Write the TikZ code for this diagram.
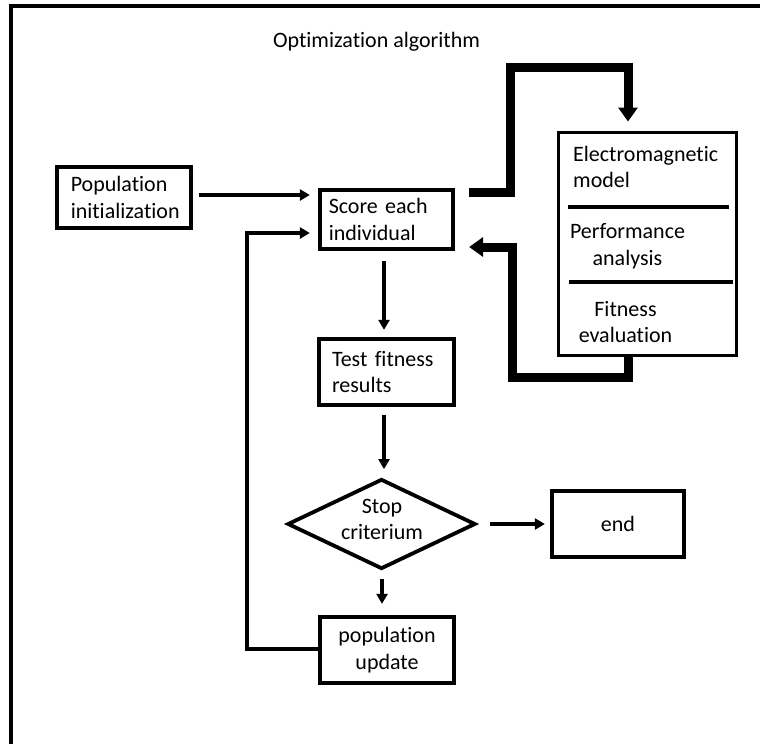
\documentclass[tikz,border=0pt]{standalone}
\usepackage{fontspec}
\setmainfont{Carlito}[Ligatures=NoCommon]
\usetikzlibrary{arrows.meta,shapes.geometric}
\begin{document}
\begin{tikzpicture}[x=1pt,y=-1pt,
  font=\fontsize{22}{26.5}\selectfont,
  stepbox/.style={draw,line width=3.8pt,rectangle,inner ysep=0pt,align=left},
  centerbox/.style={draw,line width=3.8pt,rectangle,inner sep=0pt,align=center},
  txt/.style={inner sep=0pt,align=center},
  arr/.style={line width=4pt,-{Triangle[width=11pt,length=10pt]}},
  bigarr/.style={line width=9pt,line join=miter,-{Triangle[width=19pt,length=14pt]}}]
\useasboundingbox (0,0) rectangle (760,744);

% outer frame (only the top and left edges lie inside the page)
\draw[line width=4pt,line join=miter] (10.8,744) -- (10.8,6.3) -- (760,6.3);

\node[anchor=base] (title) at (376.5,47) {Optimization algorithm};

% main flow boxes
\node[stepbox,minimum width=134.5pt,minimum height=61.5pt,inner xsep=14pt,text width=106.5pt]
  (pop) at (124,197.5) {Population\\initialization};
\node[stepbox,minimum width=133.5pt,minimum height=59.5pt,inner xsep=9pt,text width=115.5pt]
  (score) at (386.5,219.5) {Score each\\individual};
\node[stepbox,minimum width=135pt,minimum height=66.5pt,inner xsep=13pt,text width=109pt]
  (test) at (386.5,372) {Test fitness\\results};
\node[draw,line width=3.8pt,diamond,minimum width=188pt,minimum height=90pt,inner sep=0pt]
  (stop) at (381.5,524) {};
\node[txt] (stoptxt) at (382,519.5) {Stop\\criterium};
\node[centerbox,minimum width=132.5pt,minimum height=66.5pt] (end) at (618,524) {end};
\node[centerbox,minimum width=134.5pt,minimum height=66.5pt] (upd) at (387,650) {population\\update};

% evaluation block with its three stages
\node[draw,line width=3pt,rectangle,minimum width=178pt,minimum height=223pt] (em) at (647.5,244) {};
\node[anchor=west,inner sep=0pt,align=left] (emtxt) at (573,167) {Electromagnetic\\model};
\node[txt] (perftxt) at (627.5,246) {Performance\\analysis};
\node[txt] (fittxt) at (625.5,322) {Fitness\\evaluation};
\draw[line width=3.5pt] (568,207) -- (729,207);
\draw[line width=3.5pt] (569,282) -- (733,282);

% thin connectors
\draw[arr,shorten <=6pt,shorten >=8pt] ([yshift=2.5pt]pop.east) -- ([yshift=2.5pt]pop.east -| score.west);
\draw[arr,shorten <=10pt,shorten >=7pt] ([xshift=-2.5pt]score.south) -- ([xshift=-2.5pt]score.south |- test.north);
\draw[arr,shorten <=8pt,shorten >=8pt] ([xshift=-2.5pt]test.south) -- ([xshift=-2.5pt]test.south |- stop.north);
\draw[arr,shorten <=8pt,shorten >=11pt] ([xshift=0.5pt]stop.south) -- ([xshift=0.5pt]stop.south |- upd.north);
\draw[arr,shorten <=12.5pt,shorten >=5pt] (stop.east) -- (stop.east -| end.west);
\draw[arr,shorten >=8pt] ([yshift=1pt]upd.west) -- ++(-70.5,0) |- ([yshift=-13.5pt]score.west);

% thick connectors to and from the evaluation block
\draw[bigarr,shorten >=9.5pt] ([xshift=14pt,yshift=27.5pt]score.east) -| (510,67) -| ([xshift=-19.5pt]em.north);
\draw[bigarr] ([xshift=-19.5pt]em.south) -- ++(0,20.5) -| (512,247) -- ([xshift=14pt,yshift=-27.5pt]score.east);
\end{tikzpicture}
\end{document}
